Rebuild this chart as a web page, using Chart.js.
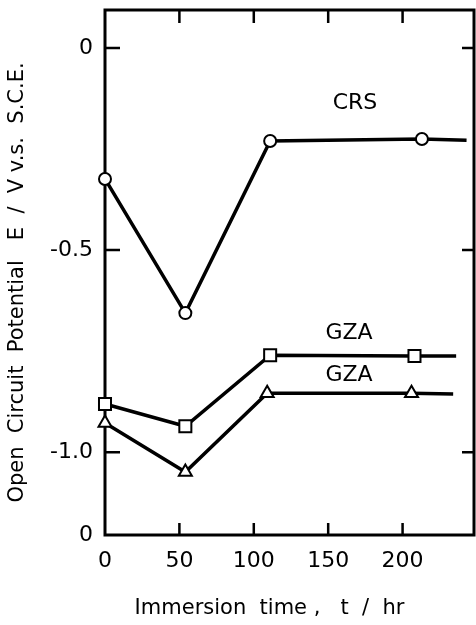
<!DOCTYPE html>
<html><head><meta charset="utf-8">
<script src="https://cdn.jsdelivr.net/npm/chart.js@4/dist/chart.umd.min.js"></script>
<style>html,body{margin:0;padding:0;background:#fff}canvas{display:block}</style>
</head><body>
<canvas id="c" width="476" height="625"></canvas>
<script>
const timeCRS = [0, 54, 111, 213, 243];
const potentialCRS = [-0.324, -0.656, -0.230, -0.225, -0.228];
const timeGZA1 = [0, 54, 111, 208, 236];
const potentialGZA1 = [-0.881, -0.936, -0.760, -0.762, -0.762];
const timeGZA2 = [0, 54, 109, 206, 234];
const potentialGZA2 = [-0.928, -1.049, -0.854, -0.854, -0.856];
const seriesNames = ['CRS', 'GZA', 'GZA'];
const xTickValues = [0, 50, 100, 150, 200];
const xTickLabels = ['0', '50', '100', '150', '200'];
const yTickValues = [0, -0.5, -1.0, -1.205];
const yTickLabels = ['0', '-0.5', '-1.0', '0'];

const FONT = "'DejaVu Sans', sans-serif";
const toXY = (xs, ys) => xs.map((x, i) => ({x: x, y: ys[i]}));
const lastHidden = r => ctx => ctx.dataIndex === ctx.dataset.data.length - 1 ? 0 : r;
const noPad = s => { s.paddingLeft = 0; s.paddingRight = 0; s.paddingTop = 0; s.paddingBottom = 0; };

function ds(label, xs, ys, style, r) {
  return {
    label: label, data: toXY(xs, ys),
    borderColor: '#000', borderWidth: 3.5, tension: 0,
    pointStyle: style, pointRadius: lastHidden(r),
    pointBackgroundColor: '#fff', pointBorderColor: '#000', pointBorderWidth: 2,
    clip: 10
  };
}

const framePlugin = {
  id: 'frame',
  beforeDatasetsDraw(chart) {
    const {ctx, chartArea: a, scales: {x, y}} = chart;
    ctx.save();
    ctx.strokeStyle = '#000';
    ctx.lineWidth = 3;
    ctx.strokeRect(a.left, a.top, a.right - a.left, a.bottom - a.top);
    ctx.lineWidth = 2.5;
    ctx.beginPath();
    yTickValues.forEach(v => {
      if (v === y.min) return;
      const py = y.getPixelForValue(v);
      ctx.moveTo(a.left, py); ctx.lineTo(a.left + 15, py);
      ctx.moveTo(a.right, py); ctx.lineTo(a.right - 12, py);
    });
    xTickValues.forEach(v => {
      if (v === x.min) return;
      const px = x.getPixelForValue(v);
      ctx.moveTo(px, a.bottom); ctx.lineTo(px, a.bottom - 12);
      ctx.moveTo(px, a.top); ctx.lineTo(px, a.top + 13);
    });
    ctx.stroke();
    ctx.restore();
  }
};

const labelPlugin = {
  id: 'seriesLabels',
  afterDatasetsDraw(chart, args, opts) {
    const {ctx, scales: {x, y}} = chart;
    ctx.save();
    ctx.fillStyle = '#000';
    ctx.font = '22px ' + FONT;
    ctx.textAlign = 'center';
    ctx.textBaseline = 'middle';
    opts.anchors.forEach((p, i) => {
      ctx.fillText(seriesNames[i], x.getPixelForValue(p[0]), y.getPixelForValue(p[1]));
    });
    ctx.restore();
  }
};

new Chart(document.getElementById('c'), {
  type: 'line',
  data: {
    datasets: [
      ds(seriesNames[0], timeCRS, potentialCRS, 'circle', 6),
      ds(seriesNames[1], timeGZA1, potentialGZA1, 'rect', 8.5),
      ds(seriesNames[2], timeGZA2, potentialGZA2, 'triangle', 7.5)
    ]
  },
  options: {
    responsive: false,
    animation: false,
    devicePixelRatio: 1,
    layout: {autoPadding: false, padding: {top: 10, right: 2, left: 0, bottom: 0}},
    plugins: {
      legend: {display: false},
      tooltip: {enabled: false},
      seriesLabels: {anchors: [[168, -0.136], [164, -0.705], [164, -0.809]]}
    },
    scales: {
      x: {
        type: 'linear', min: 0, max: 248,
        afterBuildTicks: s => { s.ticks = xTickValues.map(v => ({value: v})); },
        afterFit: s => { s.height = 90; noPad(s); },
        grid: {display: false, drawTicks: false},
        border: {display: false},
        ticks: {
          color: '#000', font: {family: FONT, size: 22}, padding: 13,
          maxRotation: 0, autoSkip: false,
          callback: (v, i) => xTickLabels[i]
        },
        title: {
          display: true, text: 'Immersion  time ,   t  /  hr      ',
          color: '#000', font: {family: FONT, size: 21}, padding: {bottom: 4, top: 0}
        }
      },
      y: {
        type: 'linear', min: -1.205, max: 0.094,
        afterBuildTicks: s => { s.ticks = yTickValues.map(v => ({value: v})); },
        afterFit: s => { s.width = 105; noPad(s); },
        grid: {display: false, drawTicks: false},
        border: {display: false},
        ticks: {
          color: '#000', font: {family: FONT, size: 22}, padding: 12,
          autoSkip: false,
          callback: function (v) { return yTickLabels[yTickValues.indexOf(v)]; }
        },
        title: {
          display: true, text: 'Open  Circuit  Potential   E  /  V v.s.  S.C.E.   ',
          color: '#000', font: {family: FONT, size: 21}, padding: {top: 5, bottom: 0}
        }
      }
    }
  },
  plugins: [framePlugin, labelPlugin]
});
</script>
</body></html>
